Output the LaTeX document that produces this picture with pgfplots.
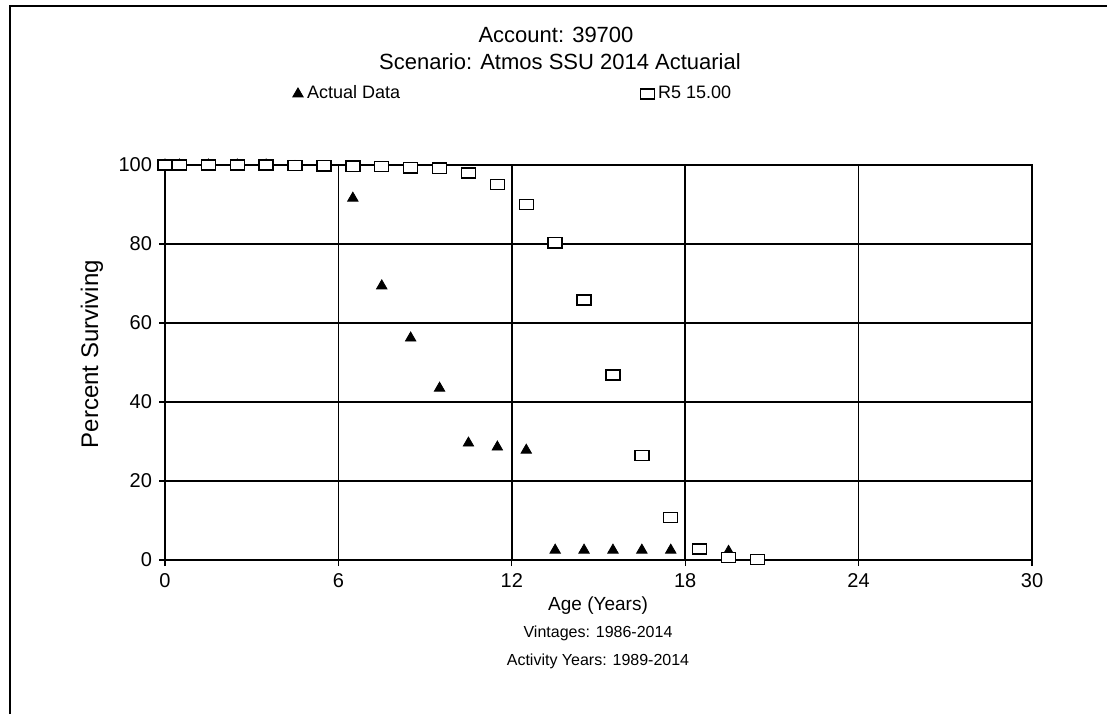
\documentclass[border=0pt]{standalone}
\usepackage{pgfplots}
\pgfplotsset{compat=1.18}
\usepackage{fontspec}
\setmainfont{Liberation Sans}
\begin{document}
\begin{tikzpicture}
\useasboundingbox (0pt,0pt) rectangle (553.5pt,357pt);
\draw[line width=1pt] (5pt,0pt) -- (5pt,354pt) -- (553.5pt,354pt);
\node[font=\fontsize{11}{13}\selectfont] at (278pt,339.5pt) {Account: 39700};
\node[font=\fontsize{11}{13}\selectfont] at (280pt,326pt) {Scenario: Atmos SSU 2014 Actuarial};
\node[font=\fontsize{9.5}{11}\selectfont] at (299pt,54pt) {Age (Years)};
\node[font=\fontsize{8}{10}\selectfont] at (299pt,40.5pt) {Vintages: 1986-2014};
\node[font=\fontsize{8}{10}\selectfont] at (299pt,26.5pt) {Activity Years: 1989-2014};
\node[font=\fontsize{12}{14}\selectfont, rotate=90] at (46pt,180pt) {Percent Surviving};
\begin{axis}[
  at={(82.5pt,77pt)}, anchor=south west,
  width=433.5pt, height=197.5pt, scale only axis,
  xmin=0, xmax=30, ymin=0, ymax=100,
  xtick={0,6,...,30}, ytick={0,20,...,100},
  xtick pos=bottom, ytick pos=left,
  tick align=outside, major tick length=3pt,
  grid=major, grid style={black, line width=0.8pt},
  axis line style={black, line width=0.6pt},
  tick style={black, line width=0.6pt},
  ticklabel style={font=\fontsize{10}{12}\selectfont},
  /pgf/number format/assume math mode=true,
  clip=false,
  legend columns=2,
  legend style={at={(0.14,1.18)}, anchor=west, draw=none, fill=none,
    font=\fontsize{9}{11}\selectfont,
    /tikz/every even column/.append style={column sep=118pt}},
  legend cell align=left,
]
\addplot[only marks, mark=triangle*, mark size=3pt, black] coordinates {
(0,100)(0.5,100)(1.5,100)(2.5,100)(3.5,100)(4.5,99.6)(5.5,99.5)
(6.5,91.6)(7.5,69.4)(8.5,56.2)(9.5,43.5)(10.5,29.6)(11.5,28.6)(12.5,27.8)
(13.5,2.5)(14.5,2.5)(15.5,2.5)(16.5,2.5)(17.5,2.5)(18.5,2.5)(19.5,2.2)
};
\addlegendentry{Actual Data}
\addplot[only marks, mark=square*, mark size=2.8pt,
  mark options={draw=black, fill=white, line width=0.7pt, xscale=1.25, yscale=0.9}] coordinates {
(0,100)(0.5,100)(1.5,100)(2.5,100)(3.5,100)(4.5,99.9)(5.5,99.8)(6.5,99.7)
(7.5,99.6)(8.5,99.3)(9.5,99.2)(10.5,98)(11.5,95)(12.5,90)(13.5,80.3)
(14.5,65.8)(15.5,46.8)(16.5,26.4)(17.5,10.8)(18.5,2.8)(19.5,0.7)(20.5,0.1)
};
\addlegendentry{R5 15.00}
\end{axis}
\end{tikzpicture}
\end{document}
